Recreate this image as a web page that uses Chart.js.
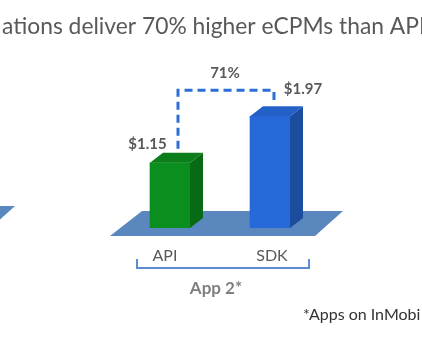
<!DOCTYPE html>
<html><head><meta charset="utf-8">
<script src="https://cdn.jsdelivr.net/npm/chart.js@4.4.1/dist/chart.umd.min.js"></script>
<style>html,body{margin:0;padding:0;background:#fff;overflow:hidden}#wrap{width:422px;height:352px;position:relative}</style>
</head><body><div id="wrap"><canvas id="c" width="422" height="352"></canvas></div>
<script>
const categories = ['API', 'SDK'];
const ecpmValues = [1.15, 1.97];
const valueLabels = ['$1.15', '$1.97'];
const upliftLabel = '71%';
const groupLabel = 'App 2*';
const titleText = 'ations deliver 70% higher eCPMs than API';
const footnoteText = '*Apps on InMobi';

const frontColors = ['#0a8f1f', '#2769d9'];
const sideColors = ['#066b14', '#1b4c9e'];
const topColors = ['#0b7d1b', '#2360c8'];
const FONT = 'Lato, "Open Sans", sans-serif';

function poly(ctx, pts, color) {
  ctx.beginPath();
  ctx.moveTo(pts[0][0], pts[0][1]);
  for (let i = 1; i < pts.length; i++) ctx.lineTo(pts[i][0], pts[i][1]);
  ctx.closePath();
  ctx.fillStyle = color;
  ctx.fill();
}

const deco = {
  id: 'deco',
  beforeDatasetsDraw(chart) {
    const ctx = chart.ctx, a = chart.chartArea;
    const base = chart.scales.y.getPixelForValue(0);
    const floor = [[a.left - 10, base + 8], [a.left + 22, base - 17], [a.right + 23, base - 17], [a.right - 5, base + 8]];
    ctx.save();
    poly(ctx, floor, '#5b87bf');
    // right edge of the previous group's floor (cut off at left)
    poly(ctx, floor.map(p => [p[0] - 328, p[1] - 5]), '#5b87bf');
    ctx.restore();
  },
  afterDatasetsDraw(chart) {
    const ctx = chart.ctx;
    const meta = chart.getDatasetMeta(0);
    const dx = 13, dy = 10;
    ctx.save();
    meta.data.forEach((el, i) => {
      const l = el.x - el.width / 2, r = el.x + el.width / 2, t = el.y, b = el.base;
      poly(ctx, [[r, t], [r + dx, t - dy], [r + dx, b - dy], [r, b]], sideColors[i]);
      poly(ctx, [[l, t], [l + dx, t - dy], [r + dx, t - dy], [r, t]], topColors[i]);
    });
    const g = meta.data[0], s = meta.data[1];
    // dashed bracket
    ctx.strokeStyle = '#2b6fd6';
    ctx.lineWidth = 3;
    ctx.setLineDash([8, 5]);
    ctx.beginPath();
    ctx.moveTo(g.x + 8, g.y - 14);
    ctx.lineTo(g.x + 8, s.y - 26);
    ctx.lineTo(s.x + 4, s.y - 26);
    ctx.lineTo(s.x + 4, s.y - 16);
    ctx.stroke();
    ctx.setLineDash([]);

    ctx.fillStyle = '#595959';
    ctx.textBaseline = 'middle';
    ctx.textAlign = 'center';
    ctx.font = 'bold 15px ' + FONT;
    ctx.fillText(valueLabels[0], g.x - 22.5, g.y - 19);
    ctx.fillText(valueLabels[1], s.x + 33, s.y - 27);
    ctx.fillText(upliftLabel, (g.x + s.x) / 2 + 5, s.y - 43);

    // category labels
    ctx.font = '16px ' + FONT;
    ctx.fillText(categories[0], g.x - 5, 256);
    ctx.fillText(categories[1], s.x + 2, 256);

    // group bracket
    ctx.strokeStyle = '#5b8dd0';
    ctx.lineWidth = 2;
    ctx.beginPath();
    ctx.moveTo(137, 259);
    ctx.lineTo(137, 268);
    ctx.lineTo(309, 268);
    ctx.lineTo(309, 259);
    ctx.stroke();

    ctx.fillStyle = '#7f7f7f';
    ctx.font = 'bold 17px ' + FONT;
    ctx.fillText(groupLabel, 216, 289);

    // title
    ctx.textAlign = 'left';
    ctx.textBaseline = 'alphabetic';
    ctx.font = '20px ' + FONT;
    const w = ctx.measureText('ations deliver 70% higher eCPMs than ').width;
    const size = 20 * 388 / w;
    ctx.font = size.toFixed(2) + 'px ' + FONT;
    ctx.fillStyle = '#595959';
    ctx.fillText(titleText, 2, 34);

    // footnote
    ctx.fillStyle = '#333333';
    ctx.font = '16px ' + FONT;
    ctx.textBaseline = 'middle';
    ctx.fillText(footnoteText, 303, 315);
    ctx.restore();
  }
};

new Chart(document.getElementById('c'), {
  type: 'bar',
  data: {
    labels: categories,
    datasets: [{ data: ecpmValues, backgroundColor: frontColors, borderWidth: 0, barThickness: 40 }]
  },
  options: {
    responsive: false,
    devicePixelRatio: 1,
    animation: false,
    layout: { padding: { left: 120, right: 102, top: 58, bottom: 124 } },
    scales: {
      x: { display: false, offset: true },
      y: { display: false, min: 0, max: 3 }
    },
    plugins: { legend: { display: false }, tooltip: { enabled: false }, title: { display: false } }
  },
  plugins: [deco]
});
</script>
</body></html>
